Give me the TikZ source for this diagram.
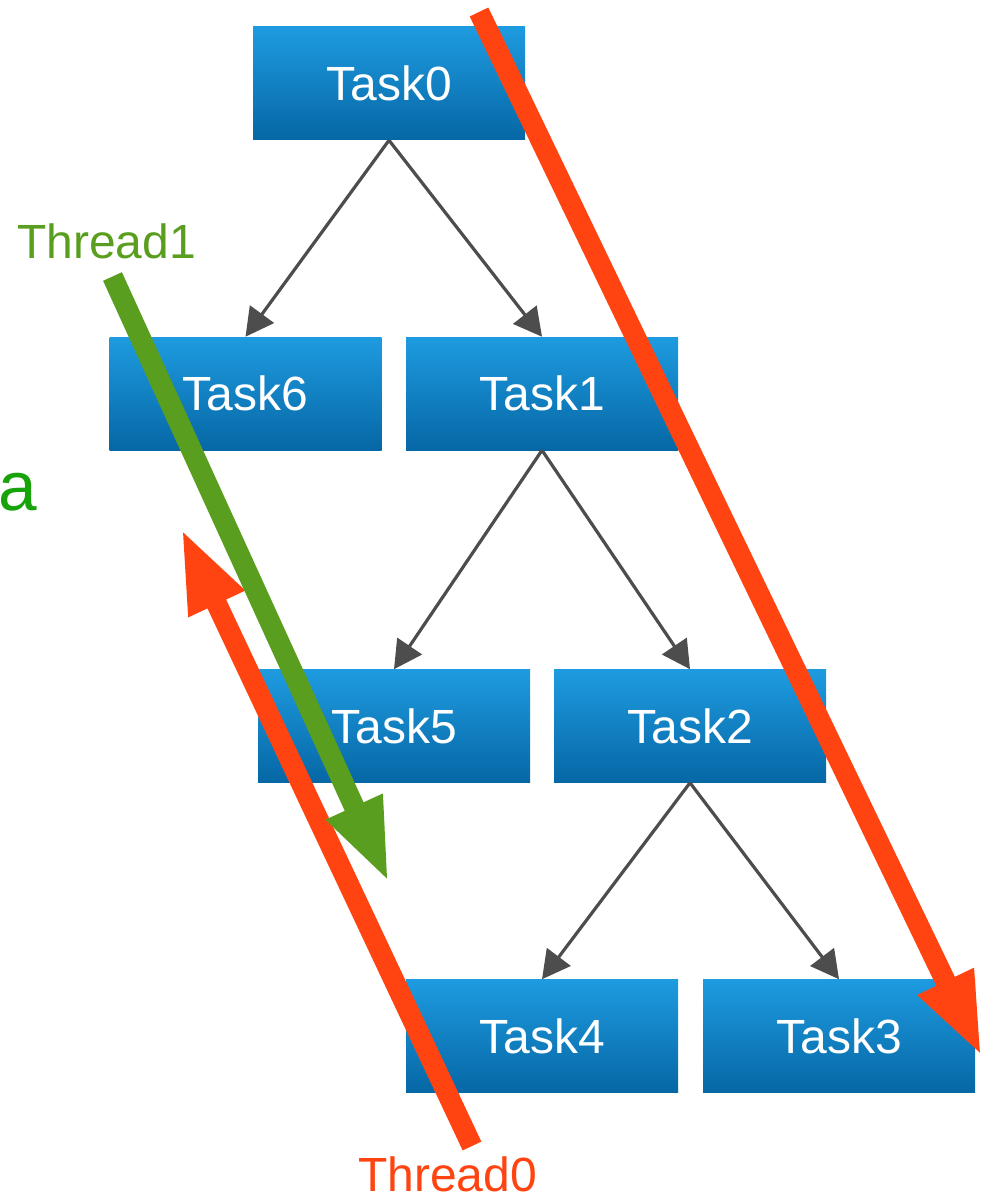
\documentclass[tikz,border=0pt]{standalone}
\usepackage{fontspec}
\setmainfont{Liberation Sans}
\usetikzlibrary{arrows.meta}
\definecolor{boxtop}{RGB}{30,155,224}
\definecolor{boxbot}{RGB}{6,103,165}
\definecolor{edgegray}{RGB}{77,77,77}
\definecolor{threadorange}{RGB}{255,68,17}
\definecolor{threadgreen}{RGB}{89,158,30}
\definecolor{labelgreen}{RGB}{24,163,10}
\tikzset{
  taskbox/.style={rectangle, inner sep=0pt, minimum width=204pt, minimum height=84.75pt,
    top color=boxtop, bottom color=boxbot, text=white, font=\fontsize{36}{40}\selectfont},
  depedge/.style={draw=edgegray, line width=2.4pt, -{Triangle[length=21pt,width=22pt]}},
  threadarrow/.style={line width=15.5pt, -{Triangle[length=63pt,width=42pt]}},
  threadlabel/.style={font=\fontsize{36}{40}\selectfont, inner sep=0pt, anchor=base}
}
\begin{document}
\begin{tikzpicture}[x=0.75pt, y=-0.75pt]
\useasboundingbox (0,0) rectangle (986,1202);

% task boxes
\node[taskbox] (t0) at (389,83.5) {Task0};
\node[taskbox] (t6) at (245.5,393.5) {Task6};
\node[taskbox] (t1) at (542,393.5) {Task1};
\node[taskbox] (t5) at (394,726) {Task5};
\node[taskbox] (t2) at (690,726) {Task2};
\node[taskbox] (t4) at (542,1036) {Task4};
\node[taskbox] (t3) at (839,1036) {Task3};

% dependency edges
\draw[depedge] (t0.south) -- (t6.north);
\draw[depedge] (t0.south) -- (t1.north);
\draw[depedge] (t1.south) -- (t5.north);
\draw[depedge] (t1.south) -- (t2.north);
\draw[depedge] (t2.south) -- (t4.north);
\draw[depedge] (t2.south) -- (t3.north);

% thread paths
\coordinate (o1s) at (479,12);
\coordinate (o1e) at (982,1057);
\coordinate (o2s) at (472,1146);
\coordinate (o2e) at (181,528);
\coordinate (g1s) at (112.5,276.5);
\coordinate (g1e) at (389,883);
\draw[threadarrow, draw=threadorange, fill=threadorange] (o1s) -- (o1e);
\draw[threadarrow, draw=threadorange, fill=threadorange] (o2s) -- (o2e);
\draw[threadarrow, draw=threadgreen, fill=threadgreen] (g1s) -- (g1e);

% labels
\node[threadlabel, text=threadgreen] (l1) at (106.5,258) {Thread1};
\node[threadlabel, text=threadorange] (l0) at (447.5,1191) {Thread0};
\node[font=\fontsize{52}{56}\selectfont, inner sep=0pt, anchor=base west, text=labelgreen] (la) at (-2,510) {a};
\end{tikzpicture}
\end{document}
